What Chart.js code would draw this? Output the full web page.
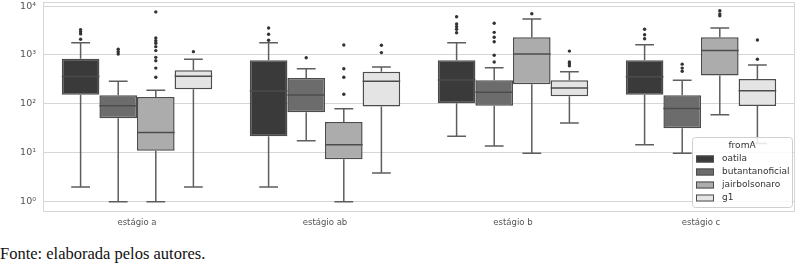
<!DOCTYPE html>
<html>
<head>
<meta charset="utf-8">
<script src="https://cdn.jsdelivr.net/npm/chart.js@4/dist/chart.umd.min.js"></script>
<style>
  html, body { margin: 0; padding: 0; background: #fff; width: 800px; height: 264px; overflow: hidden; }
  #wrap { position: absolute; left: 0; top: 0; width: 800px; height: 232px; }
  #caption { position: absolute; left: 0; top: 245px; font-family: "Liberation Serif", "DejaVu Serif", serif; font-size: 16.5px; line-height: 18px; color: #111; white-space: nowrap; }
</style>
</head>
<body>
<div id="wrap"><canvas id="c"></canvas></div>
<div id="caption">Fonte: elaborada pelos autores.</div>
<script>
// ---- data ----
const categories = ['estágio a', 'estágio ab', 'estágio b', 'estágio c'];
const seriesNames = ['oatila', 'butantanoficial', 'jairbolsonaro', 'g1'];

// per category: [whisker low, Q1, median, Q3, whisker high]
const oatila          = [[2, 155, 365, 840, 1780], [2, 22, 183, 780, 1780], [22, 103, 310, 780, 1780], [14.6, 155, 360, 780, 1620]];
const butantanoficial = [[1, 51, 92, 150, 290], [17.6, 68, 152, 340, 525], [13.8, 92, 173, 305, 550], [9.8, 32, 81, 150, 305]];
const jairbolsonaro   = [[1, 11, 26, 138, 190], [1, 7.4, 14.6, 43, 80], [9.8, 252, 1050, 2300, 5450], [60, 380, 1230, 2300, 3550]];
const g1              = [[2, 200, 370, 490, 815], [3.9, 89, 290, 455, 570], [41, 143, 212, 305, 455], [15.6, 91, 186, 325, 625]];

// outliers per category
const oatilaOutliers          = [[3300, 3000, 2700, 2100], [3550, 2660, 2000], [6050, 4300, 3800, 3350, 2850], [3350, 2600, 2150]];
const butantanoficialOutliers = [[1310, 1170, 1050], [880], [4450, 2900, 2300, 1870, 985, 720], [650, 540, 465]];
const jairbolsonaroOutliers   = [[7600, 2230, 1960, 1740, 1480, 1230, 895, 765, 540, 350], [1600, 525, 350, 158], [6950], [8000, 6900, 6300]];
const g1Outliers              = [[1170], [1580, 1120], [1200, 720, 660, 600], [2030, 820]];

const yTicks = [1, 10, 100, 1000, 10000];
const yTickLabels = ['10⁰', '10¹', '10²', '10³', '10⁴'];
const yMin = 0.62, yMax = 12100;
const legendTitle = 'fromA';

// ---- styles ----
const fills = ['#3a3a3a', '#6c6c6c', '#acacac', '#e4e4e4'];
const edge = '#4c4c4c';
const whisker = '#5e5e5e';

const stats = [oatila, butantanoficial, jairbolsonaro, g1];
const outliers = [oatilaOutliers, butantanoficialOutliers, jairbolsonaroOutliers, g1Outliers];

const datasets = seriesNames.map((name, i) => ({
  label: name,
  data: stats[i].map(s => [s[1], s[3]]),
  backgroundColor: fills[i],
  borderColor: edge,
  borderWidth: 1.5,
  borderSkipped: false,
  categoryPercentage: 0.8,
  barPercentage: 1.0
}));

const boxParts = {
  id: 'boxParts',
  beforeDatasetsDraw(chart) {
    const ctx = chart.ctx, a = chart.chartArea;
    ctx.save();
    ctx.strokeStyle = '#d6d6d6';
    ctx.lineWidth = 1;
    ctx.strokeRect(a.left + 0.5, a.top + 0.5, a.right - a.left - 1, a.bottom - a.top - 1);
    ctx.restore();
  },
  afterDatasetsDraw(chart) {
    const ctx = chart.ctx, ys = chart.scales.y;
    const py = v => ys.getPixelForValue(v);
    stats.forEach((series, i) => {
      const meta = chart.getDatasetMeta(i);
      meta.data.forEach((bar, j) => {
        const [lo, q1, med, q3, hi] = series[j];
        const x = bar.x, w = bar.width;
        ctx.save();
        ctx.lineCap = 'butt';
        ctx.strokeStyle = whisker;
        ctx.lineWidth = 1.5;
        ctx.beginPath();
        ctx.moveTo(x, py(q3)); ctx.lineTo(x, py(hi));
        ctx.moveTo(x, py(q1)); ctx.lineTo(x, py(lo));
        ctx.moveTo(x - w / 4, py(hi)); ctx.lineTo(x + w / 4, py(hi));
        ctx.moveTo(x - w / 4, py(lo)); ctx.lineTo(x + w / 4, py(lo));
        ctx.stroke();
        ctx.strokeStyle = edge;
        ctx.beginPath();
        ctx.moveTo(x - w / 2, py(med)); ctx.lineTo(x + w / 2, py(med));
        ctx.stroke();
        ctx.fillStyle = '#333';
        outliers[i][j].forEach(v => {
          ctx.beginPath();
          ctx.arc(x, py(v), 1.7, 0, Math.PI * 2);
          ctx.fill();
        });
        ctx.restore();
      });
    });
  },
  afterDraw(chart) {
    const ctx = chart.ctx;
    const lx = 692, ly = 137, lw = 100, lh = 70;
    ctx.save();
    ctx.fillStyle = 'rgba(255,255,255,0.85)';
    ctx.strokeStyle = '#d0d0d0';
    ctx.lineWidth = 1;
    ctx.beginPath();
    ctx.roundRect(lx + 0.5, ly + 0.5, lw, lh, 3);
    ctx.fill(); ctx.stroke();
    ctx.font = '9px "DejaVu Sans"';
    ctx.fillStyle = '#333';
    ctx.textBaseline = 'middle';
    ctx.textAlign = 'center';
    ctx.fillText(legendTitle, lx + lw / 2, ly + 9);
    ctx.textAlign = 'left';
    seriesNames.forEach((name, i) => {
      const yy = ly + 22 + i * 13;
      ctx.fillStyle = fills[i];
      ctx.fillRect(lx + 4, yy - 3.5, 18, 7);
      ctx.strokeStyle = edge;
      ctx.lineWidth = 1;
      ctx.strokeRect(lx + 4.5, yy - 3, 17, 6);
      ctx.fillStyle = '#333';
      ctx.fillText(name, lx + 30, yy);
    });
    ctx.restore();
  }
};

new Chart(document.getElementById('c'), {
  type: 'bar',
  data: { labels: categories, datasets },
  plugins: [boxParts],
  options: {
    responsive: true,
    maintainAspectRatio: false,
    animation: false,
    layout: { padding: { left: 0, right: 5, top: 2, bottom: 0 } },
    plugins: { legend: { display: false }, tooltip: { enabled: false } },
    scales: {
      x: {
        grid: { display: false, drawTicks: false },
        border: { display: false },
        ticks: { color: '#555', font: { family: 'DejaVu Sans', size: 8.5 }, padding: 6 },
        afterFit(s) { s.height = 20; s.paddingLeft = 0; s.paddingRight = 0; }
      },
      y: {
        type: 'logarithmic',
        min: yMin,
        max: yMax,
        afterBuildTicks(s) {
          s.ticks = yTicks.map(v => ({ value: v }));
          s.min = yMin; s.max = yMax;
        },
        grid: { color: '#d6d6d6', lineWidth: 1, drawTicks: false },
        border: { display: false },
        ticks: {
          color: '#555',
          font: { family: 'DejaVu Sans', size: 9.5 },
          padding: 7,
          callback: (v, idx) => yTickLabels[idx]
        },
        afterFit(s) { s.width = 43; s.paddingTop = 0; s.paddingBottom = 0; }
      }
    }
  }
});
</script>
</body>
</html>
